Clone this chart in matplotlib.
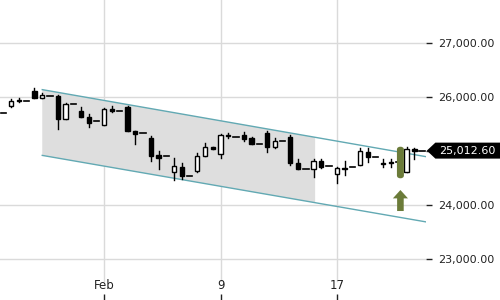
import numpy as np
import matplotlib
matplotlib.use("Agg")
import matplotlib.pyplot as plt
from matplotlib.patches import Rectangle, FancyBboxPatch, FancyArrow, Polygon

# candle data (open, high, low, close)
opens = [25704, 25839, 25950, 25932, 26111, 25987, 26030, 26030, 25593, 25870,
         25746, 25641, 25556, 25482, 25783, 25746, 25826, 25381, 25339, 25241,
         24926, 24907, 24611, 24715, 24537, 24635, 24913, 25080, 24944, 25302,
         25259, 25302, 25241, 25130, 25345, 25085, 25191, 25270, 24789, 24678,
         24667, 24815, 24728, 24580, 24690, 24704, 24741, 24987, 24900, 24782,
         24794, 24796, 24622, 25037, 25012.6]
highs = [25704, 25969, 25982, 25932, 26172, 26080, 26030, 26048, 25900, 25870,
         25815, 25685, 25556, 25796, 25845, 25746, 25845, 25381, 25339, 25283,
         25006, 24907, 24870, 24778, 24537, 24974, 25148, 25080, 25320, 25333,
         25259, 25352, 25274, 25130, 25376, 25241, 25191, 25302, 24852, 24678,
         24857, 24857, 24728, 24715, 24826, 24704, 25057, 25057, 24900, 24852,
         24852, 24796, 25074, 25056, 25012.6]
lows = [25704, 25815, 25913, 25932, 25982, 25987, 26030, 25419, 25593, 25870,
        25630, 25456, 25556, 25482, 25722, 25746, 25381, 25130, 25339, 24826,
        24672, 24907, 24469, 24482, 24537, 24622, 24913, 25043, 24882, 25241,
        25259, 25196, 25130, 25130, 24993, 25056, 25191, 24746, 24667, 24678,
        24530, 24685, 24728, 24407, 24561, 24704, 24741, 24796, 24900, 24715,
        24715, 24796, 24622, 24852, 25012.6]
closes = [25704, 25937, 25926, 25932, 25982, 26048, 26030, 25593, 25876, 25870,
          25630, 25524, 25556, 25778, 25741, 25746, 25381, 25326, 25339, 24918,
          24881, 24907, 24728, 24548, 24537, 24913, 25074, 25043, 25302, 25283,
          25259, 25228, 25130, 25130, 25085, 25185, 25191, 24789, 24678, 24678,
          24815, 24715, 24728, 24685, 24680, 24704, 25006, 24889, 24900, 24772,
          24783, 24796, 25037, 25000, 25012.6]

tick_idx = [13, 28, 43]
tick_labels = ["Feb", "9", "17"]
y_ticks = [23000, 24000, 25000, 26000, 27000]
y_labels = ["23,000.00", "24,000.00", "", "26,000.00", "27,000.00"]

# trend channel (index, value) and shaded zone
chan_x = [5.0, 54.6]
chan_top = [26142, 24898]
chan_bot = [24924, 23690]
shade_end = 40.2
last_price = 25012.6

# highlighted candle and arrow
hl_idx = 51.2
hl_top, hl_bot = 25085, 24500
arrow_base, arrow_tip = 23894, 24283

fig = plt.figure(figsize=(5, 3), dpi=100)
ax = fig.add_axes([0, 0, 0.852, 1])
ax.set_xlim(-0.45, 54.5)
ax.set_ylim(22246, 27802)
for s in ax.spines.values():
    s.set_visible(False)

grid_c = "#dadada"
for t in y_ticks:
    if t != 25000:
        ax.axhline(t, color=grid_c, lw=1, zorder=0)
for t in tick_idx:
    ax.axvline(t, ymin=0.063, ymax=1, color=grid_c, lw=1, zorder=0)

# shaded channel section
slope_t = (chan_top[1] - chan_top[0]) / (chan_x[1] - chan_x[0])
slope_b = (chan_bot[1] - chan_bot[0]) / (chan_x[1] - chan_x[0])
sx = [chan_x[0], shade_end, shade_end, chan_x[0]]
sy = [chan_top[0], chan_top[0] + slope_t * (shade_end - chan_x[0]),
      chan_bot[0] + slope_b * (shade_end - chan_x[0]), chan_bot[0]]
ax.add_patch(Polygon(list(zip(sx, sy)), closed=True, facecolor="#dedede",
                     edgecolor="none", zorder=1))
ax.plot(chan_x, chan_top, color="#62a9b3", lw=1, zorder=2)
ax.plot(chan_x, chan_bot, color="#62a9b3", lw=1, zorder=2)

# candles
w = 0.55
for i in range(len(opens)):
    o, h, l, c = opens[i], highs[i], lows[i], closes[i]
    if h == l:
        ax.plot([i - 0.35, i + 0.35], [o, o], color="black", lw=1.2, zorder=3)
        continue
    ax.plot([i, i], [l, h], color="black", lw=1, zorder=3)
    lo, hi = min(o, c), max(o, c)
    fc = "white" if c > o else "black"
    ax.add_patch(Rectangle((i - w / 2, lo), w, max(hi - lo, 18), facecolor=fc,
                           edgecolor="black", lw=1, zorder=4))

# highlight + arrow
hl_col = "#6b7b39"
ax.add_patch(FancyBboxPatch((hl_idx - 0.45, hl_bot), 0.9, hl_top - hl_bot,
                            boxstyle="round,pad=0,rounding_size=0.45",
                            mutation_aspect=120, facecolor=hl_col,
                            edgecolor="none", zorder=5))
ax.add_patch(FancyArrow(hl_idx, arrow_base, 0, arrow_tip - arrow_base, width=0.85,
                        head_width=1.95, head_length=155, length_includes_head=True,
                        facecolor=hl_col, edgecolor="none", zorder=5))

ax.set_xticks(tick_idx)
ax.set_xticklabels(tick_labels)
ax.tick_params(axis="x", direction="in", length=4, width=1, pad=-15,
               labelsize=8.5, colors="#222222")
ax.yaxis.tick_right()
ax.set_yticks(y_ticks)
ax.set_yticklabels(y_labels)
ax.tick_params(axis="y", direction="out", length=4, width=1, pad=5,
               labelsize=8, colors="#222222")

# last price tag (x in axes fraction, y in data)
half = 148
tag = Polygon([(1.002, last_price), (1.022, last_price + half), (1.18, last_price + half),
               (1.18, last_price - half), (1.022, last_price - half)], closed=True,
              facecolor="black", edgecolor="none", transform=ax.get_yaxis_transform(),
              clip_on=False, zorder=6)
ax.add_patch(tag)
ax.text(1.03, last_price, f"{last_price:,.2f}", transform=ax.get_yaxis_transform(),
        ha="left", va="center", fontsize=8, color="white", clip_on=False, zorder=7)

fig.savefig("out.png", dpi=100)
